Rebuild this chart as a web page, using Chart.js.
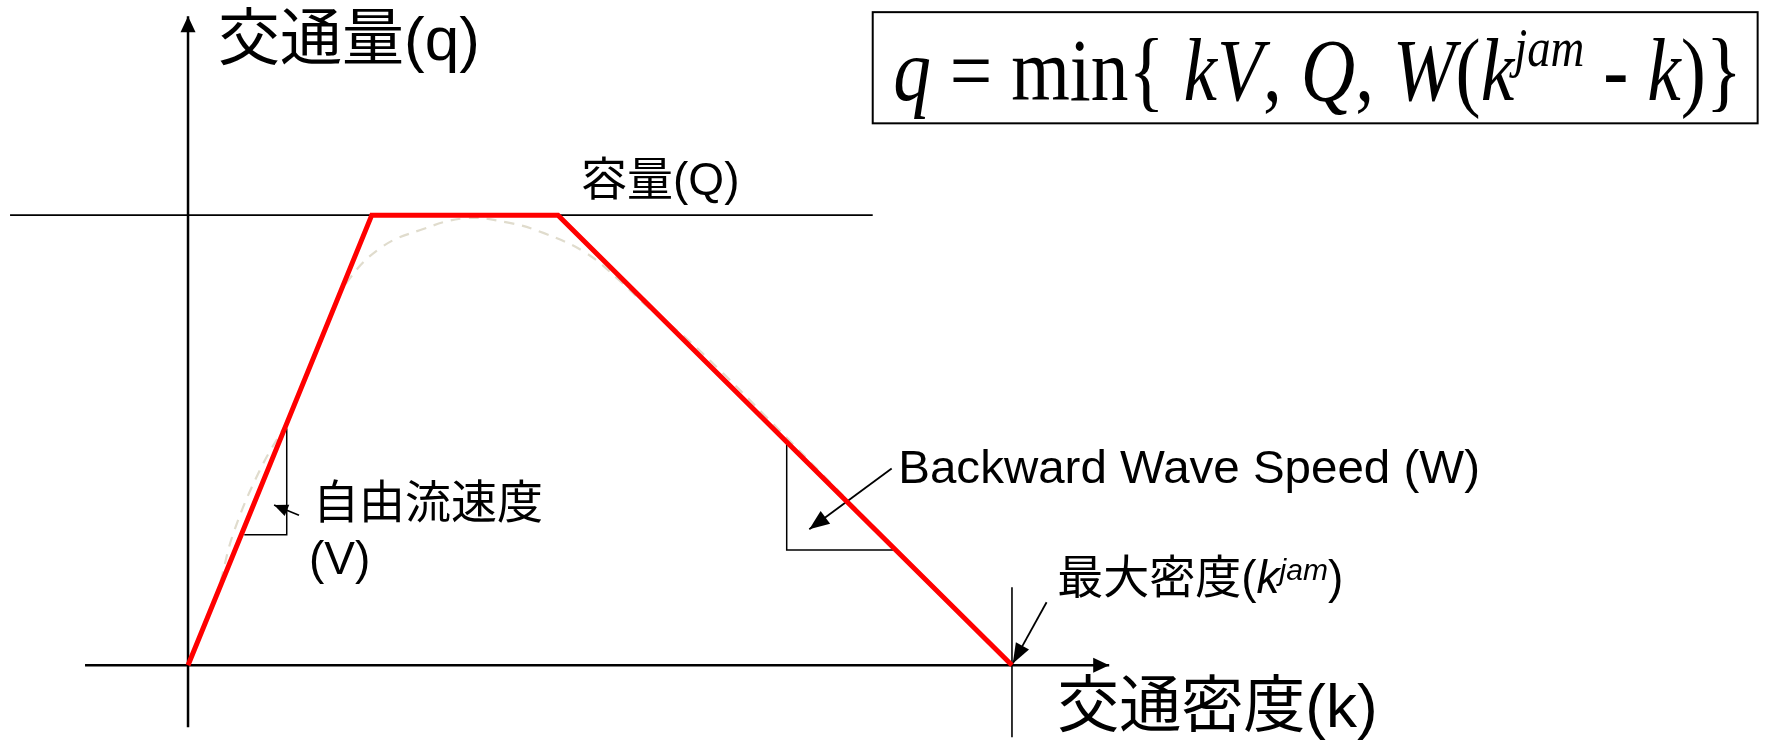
<!DOCTYPE html>
<html><head><meta charset="utf-8">
<script src="https://cdn.jsdelivr.net/npm/chart.js@4.4.1/dist/chart.umd.min.js"></script>
<style>html,body{margin:0;padding:0;background:#fff;overflow:hidden}canvas{display:block}</style>
</head><body>
<canvas id="c" width="1770" height="744"></canvas>
<script>
// Fundamental diagram: density k normalised so k_jam = 100, capacity Q = 100
const flowK = [0, 22.3, 44.9, 100];
const flowQ = [0, 100, 100, 0];
// observed-like smooth curve (dashed)
const curveK = [0, 3.5, 5.5, 8.7, 12.7, 17.0, 19.5, 23.5, 28.2, 33.6, 38.7, 43.2, 48.3, 52.3, 55.8, 60.3, 64.9, 70, 80, 90, 100];
const curveQ = [0, 16, 29.3, 43.3, 56.7, 76.7, 85.6, 92.9, 96.7, 99.3, 98.4, 96.0, 91.6, 85.6, 79.6, 72.9, 64.9, 55.5, 36.8, 18.3, 0];
const capacityQ = 100;
const jamK = 100;
// axis extents (data units)
const kAxisRange = [-12.5, 111.8];
const qAxisRange = [-13.8, 144.2];
const capacityLineRange = [-21.6, 83.1];
const jamMarkRange = [-16, 17.3];
// slope triangles and arrows
const ffTriangleK = [6.83, 11.98, 11.98];
const ffTriangleQ = [29.0, 29.0, 52.6];
const ffArrowK = [13.47, 10.44];
const ffArrowQ = [33.3, 35.6];
const bwTriangleK = [72.66, 72.66, 85.8];
const bwTriangleQ = [49.3, 25.6, 25.6];
const bwArrowK = [85.4, 75.4];
const bwArrowQ = [43.7, 30.2];
const jamArrowK = [104.2, 100.1];
const jamArrowQ = [14.0, 0.4];
// texts
const yTitle = '交通量(q)';
const xTitle = '交通密度(k)';
const capacityLabel = '容量(Q)';
const ffLabel = ['自由流速度', '(V)'];
const bwLabel = 'Backward Wave Speed (W)';
const jamLabel = ['最大密度(', 'k', 'jam', ')'];

const pts = (xs, ys) => xs.map((x, i) => ({x: x, y: ys[i]}));
const line = (data, color, width, order, extra) => Object.assign({
  data: data, showLine: true, borderColor: color, backgroundColor: color,
  borderWidth: width, pointRadius: 0, tension: 0, order: order, fill: false
}, extra || {});

const SANS = '"Liberation Sans", "Noto Sans CJK JP", sans-serif';
const SERIF = '"Liberation Serif", "DejaVu Serif", serif';

const arrowPlugin = {
  id: 'arrowheads',
  afterDatasetsDraw(chart) {
    const ctx = chart.ctx;
    chart.data.datasets.forEach((ds, i) => {
      if (!ds.arrowHead) return;
      const meta = chart.getDatasetMeta(i);
      const n = meta.data.length;
      const a = meta.data[n - 2], b = meta.data[n - 1];
      const ang = Math.atan2(b.y - a.y, b.x - a.x);
      const L = ds.arrowHead.len, W = ds.arrowHead.half;
      ctx.save();
      ctx.fillStyle = ds.borderColor;
      ctx.beginPath();
      ctx.moveTo(b.x, b.y);
      ctx.lineTo(b.x - L * Math.cos(ang) + W * Math.sin(ang), b.y - L * Math.sin(ang) - W * Math.cos(ang));
      ctx.lineTo(b.x - L * Math.cos(ang) - W * Math.sin(ang), b.y - L * Math.sin(ang) + W * Math.cos(ang));
      ctx.closePath();
      ctx.fill();
      ctx.restore();
    });
  }
};

function drawSegs(ctx, x, y, segs) {
  let cx = x;
  segs.forEach(s => {
    ctx.font = s.f;
    ctx.fillText(s.t, cx, y - (s.dy || 0));
    cx += ctx.measureText(s.t).width;
  });
  return cx - x;
}

const textPlugin = {
  id: 'texts',
  afterDraw(chart) {
    const ctx = chart.ctx, xs = chart.scales.x, ys = chart.scales.y;
    const P = (k, q) => [xs.getPixelForValue(k), ys.getPixelForValue(q)];
    ctx.save();
    ctx.fillStyle = '#000';
    ctx.textBaseline = 'alphabetic';
    ctx.textAlign = 'left';
    let p;
    p = P(3.64, 134.4); ctx.font = '62px ' + SANS; ctx.fillText(yTitle, p[0], p[1]);
    p = P(105.5, -13.8); ctx.font = '62px ' + SANS; ctx.fillText(xTitle, p[0], p[1]);
    p = P(47.7, 104.4); ctx.font = '46px ' + SANS; ctx.fillText(capacityLabel, p[0], p[1]);
    p = P(15.17, 32.7); ctx.font = '46px ' + SANS; ctx.fillText(ffLabel[0], p[0], p[1]);
    p = P(14.68, 20.2); ctx.font = '46px ' + SANS; ctx.fillText(ffLabel[1], p[0], p[1]);
    // backward wave label, fitted to its measured span
    p = P(86.2, 40.4);
    ctx.font = '46.5px ' + SANS;
    const bwW = ctx.measureText(bwLabel).width;
    const bwTarget = xs.getPixelForValue(156.8) - p[0];
    ctx.save();
    ctx.translate(p[0], p[1]);
    ctx.scale(bwTarget / bwW, 1);
    ctx.fillText(bwLabel, 0, 0);
    ctx.restore();
    p = P(105.5, 16.0);
    drawSegs(ctx, p[0], p[1], [
      {t: jamLabel[0], f: '46px ' + SANS},
      {t: jamLabel[1], f: 'italic 46px ' + SANS},
      {t: jamLabel[2], f: 'italic 30px ' + SANS, dy: 13},
      {t: jamLabel[3], f: '46px ' + SANS}
    ]);
    // formula box
    const b0 = P(83.1, 145.1), b1 = P(190.5, 120.4);
    ctx.strokeStyle = '#000';
    ctx.lineWidth = 2;
    ctx.strokeRect(b0[0], b0[1], b1[0] - b0[0], b1[1] - b0[1]);
    const fs = 74;
    const I = 'italic ' + fs + 'px ' + SERIF, R = fs + 'px ' + SERIF, S = 'italic ' + Math.round(fs * 0.62) + 'px ' + SERIF;
    const segs = [
      {t: 'q', f: I}, {t: ' = min{ ', f: R}, {t: 'kV', f: I}, {t: ', ', f: R}, {t: 'Q', f: I},
      {t: ', ', f: R}, {t: 'W', f: I}, {t: '(', f: R}, {t: 'k', f: I}, {t: 'jam', f: S, dy: fs * 0.38},
      {t: ' - ', f: R}, {t: 'k', f: I}, {t: ')}', f: R}
    ];
    let w = 0;
    segs.forEach(s => { ctx.font = s.f; w += ctx.measureText(s.t).width; });
    const fp = P(85.6, 125.6);
    const target = xs.getPixelForValue(188.6) - fp[0];
    ctx.translate(fp[0], fp[1]);
    ctx.scale(target / w, 1.2);
    drawSegs(ctx, 0, 0, segs);
    ctx.restore();
  }
};

new Chart(document.getElementById('c'), {
  type: 'scatter',
  data: {
    datasets: [
      line(pts(flowK, flowQ), '#ff0000', 5, 0, {borderJoinStyle: 'miter'}),
      line(pts(curveK, curveQ), '#e0dccd', 2.2, 9, {borderDash: [10, 8], tension: 0.4, cubicInterpolationMode: 'default'}),
      line(pts(kAxisRange, [0, 0]), '#000', 2.5, 3, {arrowHead: {len: 16, half: 7.5}}),
      line(pts([0, 0], qAxisRange), '#000', 2.5, 3, {arrowHead: {len: 16, half: 7.5}}),
      line(pts(capacityLineRange, [capacityQ, capacityQ]), '#000', 1.6, 4),
      line(pts([jamK, jamK], jamMarkRange), '#000', 1.6, 4),
      line(pts(ffTriangleK, ffTriangleQ), '#000', 1.5, 4),
      line(pts(ffArrowK, ffArrowQ), '#000', 1.6, 4, {arrowHead: {len: 14, half: 6}}),
      line(pts(bwTriangleK, bwTriangleQ), '#000', 1.5, 4),
      line(pts(bwArrowK, bwArrowQ), '#000', 1.8, 4, {arrowHead: {len: 20, half: 8}}),
      line(pts(jamArrowK, jamArrowQ), '#000', 1.8, 4, {arrowHead: {len: 20, half: 7.5}})
    ]
  },
  options: {
    responsive: false,
    animation: false,
    layout: {padding: 0},
    plugins: {legend: {display: false}, tooltip: {enabled: false}},
    scales: {
      x: {type: 'linear', min: -22.82, max: 192.0, display: false},
      y: {type: 'linear', min: -17.5, max: 147.8, display: false}
    }
  },
  plugins: [arrowPlugin, textPlugin]
});
</script>
</body></html>
